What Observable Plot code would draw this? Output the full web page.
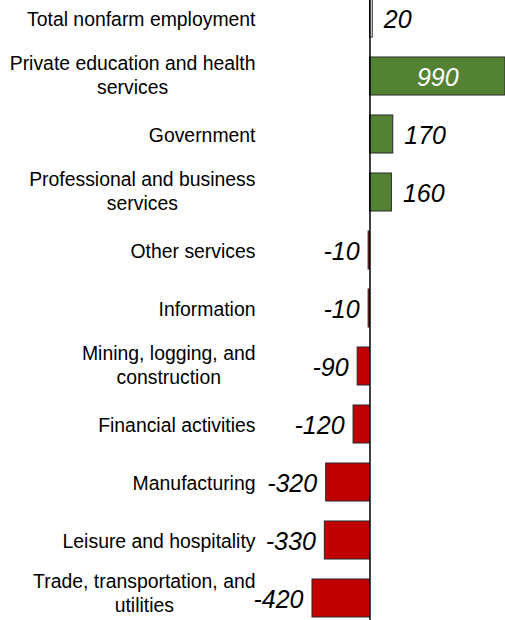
<!DOCTYPE html>
<html>
<head>
<meta charset="utf-8">
<script src="https://cdn.jsdelivr.net/npm/d3@7"></script>
<script src="https://cdn.jsdelivr.net/npm/@observablehq/plot@0.6"></script>
<style>
  html, body { margin: 0; padding: 0; background: #fff; }
  #chart svg { display: block; }
</style>
</head>
<body>
<div id="chart"></div>
<script>
const categories = [
  "Total nonfarm employment",
  "Private education and health\nservices",
  "Government",
  "Professional and business\nservices",
  "Other services",
  "Information",
  "Mining, logging, and\nconstruction",
  "Financial activities",
  "Manufacturing",
  "Leisure and hospitality",
  "Trade, transportation, and\nutilities"
];
const values = [20, 990, 170, 160, -10, -10, -90, -120, -320, -330, -420];

const W = 505, H = 620;
const FONT = "'Liberation Sans', Arial, sans-serif";
const catSize = 19.4, valSize = 25;
const green = "#548235", red = "#c00000";

const xDomain = [-420, 990], xRange = [312, 505];
const xs = d3.scaleLinear().domain(xDomain).range(xRange);

// text measurement for centered multi-line category labels, right edge at px 255
const ctx = document.createElement("canvas").getContext("2d");
ctx.font = `${catSize}px ${FONT}`;
const labelRight = 255;

const data = categories.map((c, i) => {
  const lines = c.split("\n");
  const maxW = d3.max(lines, l => ctx.measureText(l).width);
  const v = values[i];
  return {
    cat: c,
    value: v,
    fill: i === 0 ? "#ffffff" : (v > 0 ? green : red),
    labelX: xs.invert(labelRight - maxW / 2),
    inside: v > 500,
    multi: lines.length > 1,
    last: i === categories.length - 1
  };
});

const catText = (rows, dy) => Plot.text(rows, {
  x: "labelX", y: "cat", text: "cat", textAnchor: "middle",
  fontSize: catSize, fill: "#000", lineHeight: 1.22, dy
});

const chart = Plot.plot({
  width: W,
  height: H,
  marginTop: 0, marginBottom: 0, marginLeft: 0, marginRight: 0,
  style: { fontFamily: FONT, background: "#fff" },
  x: { domain: xDomain, range: xRange, axis: null },
  y: { domain: categories, range: [-11, 627], paddingInner: 0.345, paddingOuter: 0.1725, axis: null },
  color: { type: "identity" },
  marks: [
    Plot.barX(data, { x: "value", y: "cat", fill: "fill", stroke: "#262626", strokeWidth: 1 }),
    Plot.ruleX([0], { stroke: "#000", strokeWidth: 1.5 }),
    // category labels
    catText(data.filter(d => !d.multi), -0.5),
    catText(data.filter(d => d.multi && !d.last), -2),
    catText(data.filter(d => d.last), -6),
    // positive value labels outside
    Plot.text(data.filter(d => d.value > 0 && !d.inside), {
      x: "value", y: "cat", text: d => String(d.value), textAnchor: "start", dx: 11, dy: 1,
      fontSize: valSize, fontStyle: "italic", fill: "#000"
    }),
    // inside label
    Plot.text(data.filter(d => d.inside), {
      x: d => d.value / 2, y: "cat", text: d => String(d.value), textAnchor: "middle", dy: 1,
      fontSize: valSize, fontStyle: "italic", fill: "#fff"
    }),
    // negative value labels
    Plot.text(data.filter(d => d.value < 0), {
      x: "value", y: "cat", text: d => String(d.value), textAnchor: "end", dx: -9, dy: 1,
      fontSize: valSize, fontStyle: "italic", fill: "#000"
    })
  ]
});
document.getElementById("chart").appendChild(chart);
</script>
</body>
</html>
